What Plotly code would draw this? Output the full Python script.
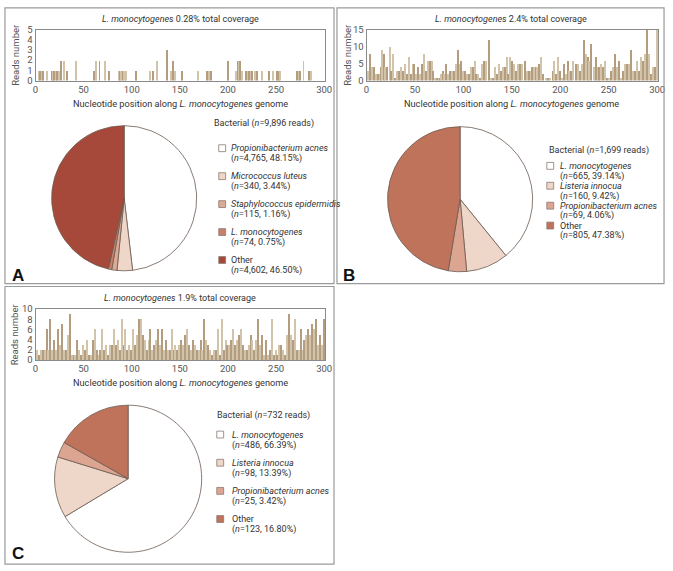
import plotly.graph_objects as go

W, H = 673, 571

# ---- coverage data (position along genome, reads number) ----
a_pos = [3, 4, 6, 7, 11, 17, 18, 19, 21, 22, 24, 26, 29, 32, 42, 60, 62, 66, 72, 76,
         86, 87, 88, 90, 91, 93, 94, 104, 118, 122, 126, 136, 140, 142, 144, 152, 168,
         178, 180, 182, 199, 200, 208, 210, 211, 212, 214, 218, 220, 221, 223, 224, 228,
         230, 235, 242, 246, 250, 252, 253, 254, 271, 273, 274, 278, 284, 286]
a_reads = [1, 1, 1, 1, 1, 1, 1, 1, 1, 1, 1, 2, 2, 1, 2, 1, 2, 2, 2, 1,
           1, 1, 1, 1, 1, 1, 1, 1, 1, 1, 2, 3, 1, 2, 1, 1, 1,
           1, 1, 1, 2, 2, 1, 2, 2, 2, 1, 1, 1, 1, 1, 1, 1,
           1, 1, 1, 1, 1, 1, 1, 1, 1, 1, 1, 2, 1, 1]

b_pos = [1, 3, 5, 7, 9, 11, 13, 14, 16, 18, 19, 21, 24, 25, 27, 29, 31, 33, 35, 37,
         39, 41, 43, 45, 47, 49, 51, 53, 55, 57, 59, 61, 63, 65, 67, 68, 70, 72, 74, 75,
         76, 78, 80, 82, 84, 86, 88, 90, 92, 94, 96, 97, 99, 101, 103, 105, 107, 109, 111, 113,
         115, 117, 119, 121, 123, 126, 128, 130, 132, 134, 136, 138, 140, 142, 145, 146, 148, 150, 152, 154,
         156, 158, 160, 163, 165, 167, 169, 170, 172, 174, 176, 178, 180, 182, 185, 187, 189, 192, 193, 195,
         197, 199, 201, 203, 205, 207, 209, 211, 213, 216, 218, 220, 222, 224, 226, 228, 229, 231, 234, 236,
         238, 240, 242, 244, 246, 248, 250, 252, 254, 256, 258, 260, 262, 264, 266, 268, 270, 273, 275, 277,
         279, 281, 283, 285, 287, 289, 291, 293, 295, 297, 299]
b_reads = [3, 8, 4, 4, 2, 2, 2, 4, 9, 8, 4, 4, 10, 3, 8, 1, 3, 3, 4, 3,
           5, 2, 7, 2, 5, 5, 2, 4, 2, 5, 8, 3, 6, 6, 6, 3, 1, 1, 1, 1,
           2, 3, 2, 5, 2, 3, 3, 3, 5, 9, 5, 6, 3, 3, 2, 2, 4, 4, 6, 2,
           2, 1, 5, 6, 6, 12, 1, 1, 4, 2, 5, 3, 4, 4, 7, 2, 7, 6, 5, 3,
           5, 5, 5, 6, 3, 3, 3, 4, 4, 4, 4, 5, 7, 2, 1, 1, 1, 3, 6, 2,
           7, 3, 1, 5, 2, 6, 3, 3, 6, 5, 5, 3, 5, 12, 8, 7, 6, 11, 4, 7,
           4, 4, 5, 4, 6, 1, 1, 3, 4, 8, 4, 6, 1, 3, 5, 5, 5, 9, 3, 3,
           6, 3, 7, 6, 8, 15, 8, 2, 4, 4, 15]

c_pos = list(range(1, 300, 2))
c_reads = [2, 1, 2, 2, 2, 6, 2, 8, 2, 4, 2, 6, 3, 7, 2, 2, 5, 9, 1, 1,
           1, 4, 2, 1, 3, 2, 4, 1, 1, 4, 6, 2, 1, 2, 6, 2, 3, 1, 3, 3,
           6, 3, 4, 2, 8, 3, 6, 2, 3, 2, 6, 3, 5, 8, 8, 5, 4, 2, 4, 6,
           2, 3, 4, 6, 3, 6, 2, 4, 2, 2, 6, 2, 3, 2, 3, 4, 3, 5, 6, 3,
           2, 4, 3, 2, 2, 4, 2, 8, 4, 3, 2, 1, 2, 2, 6, 1, 8, 2, 4, 3,
           3, 4, 6, 3, 4, 5, 6, 3, 2, 2, 3, 5, 4, 2, 4, 8, 3, 5, 1, 4,
           1, 2, 8, 1, 2, 1, 3, 3, 2, 1, 5, 9, 5, 4, 8, 2, 2, 6, 2, 4,
           5, 6, 5, 7, 6, 8, 3, 5, 3, 8]

# ---- pie data ----
a_names = ["Propionibacterium acnes", "Micrococcus luteus", "Staphylococcus epidermidis",
           "L. monocytogenes", "Other"]
a_counts = [4765, 340, 115, 74, 4602]
a_pcts = ["48.15", "3.44", "1.16", "0.75", "46.50"]

b_names = ["L. monocytogenes", "Listeria innocua", "Propionibacterium acnes", "Other"]
b_counts = [665, 160, 69, 805]
b_pcts = ["39.14", "9.42", "4.06", "47.38"]

c_names = ["L. monocytogenes", "Listeria innocua", "Propionibacterium acnes", "Other"]
c_counts = [486, 98, 25, 123]
c_pcts = ["66.39", "13.39", "3.42", "16.80"]

a_colors = ["#ffffff", "#eed6c9", "#dcaa95", "#c9806a", "#a7493a"]
bc_colors = ["#ffffff", "#eed6c9", "#dba592", "#bf735b"]

FONT = "Liberation Sans Narrow, Roboto, sans-serif"
GRAY = "#555555"
TXT = "#333333"


def px(x):
    return x / W


def py(y):
    return 1 - y / H


def bar_colors(n):
    return ["#d2c3ab" if i % 2 == 0 else "#b39d7e" for i in range(n)]


fig = go.Figure()

fig.add_trace(go.Bar(x=a_pos, y=a_reads, width=1.0, marker=dict(color=bar_colors(len(a_pos)), line_width=0),
                     xaxis="x", yaxis="y", showlegend=False))
fig.add_trace(go.Bar(x=b_pos, y=b_reads, width=1.1, marker=dict(color=bar_colors(len(b_pos)), line_width=0),
                     xaxis="x2", yaxis="y2", showlegend=False))
fig.add_trace(go.Bar(x=c_pos, y=c_reads, width=1.1, marker=dict(color=bar_colors(len(c_pos)), line_width=0),
                     xaxis="x3", yaxis="y3", showlegend=False))


def pie(names, counts, colors, cx, cy, r):
    return go.Pie(labels=names, values=counts, sort=False, direction="clockwise", rotation=0,
                  marker=dict(colors=colors, line=dict(color="#6b5a50", width=0.8)),
                  textinfo="none", hoverinfo="label+value+percent", showlegend=False,
                  domain=dict(x=[px(cx - r), px(cx + r)], y=[py(cy + r), py(cy - r)]))


fig.add_trace(pie(a_names, a_counts, a_colors, 123, 196, 74))
fig.add_trace(pie(b_names, b_counts, bc_colors, 464, 197, 74))
fig.add_trace(pie(c_names, c_counts, bc_colors, 127, 482, 75))

axis_common = dict(showline=True, linecolor="#8a8a8a", linewidth=1, mirror=True, showgrid=False,
                   zeroline=False, ticks="", tickfont=dict(size=9.5, color=GRAY, family=FONT))
xticks = [0, 50, 100, 150, 200, 250, 300]

layout = dict(
    width=W, height=H, margin=dict(l=0, r=0, t=0, b=0),
    paper_bgcolor="white", plot_bgcolor="white", bargap=0,
    font=dict(family=FONT, color=TXT),
    xaxis=dict(axis_common, domain=[px(33), px(327)], range=[0, 301], tickvals=xticks),
    yaxis=dict(axis_common, domain=[py(76), py(24)], range=[0, 5], tickvals=[0, 1, 2, 3, 4, 5]),
    xaxis2=dict(axis_common, domain=[px(369), px(665)], range=[0, 301], tickvals=xticks, anchor="y2"),
    yaxis2=dict(axis_common, domain=[py(76), py(24)], range=[0, 15], tickvals=[0, 5, 10, 15], anchor="x2"),
    xaxis3=dict(axis_common, domain=[px(33), px(327)], range=[0, 301], tickvals=xticks, anchor="y3"),
    yaxis3=dict(axis_common, domain=[py(361), py(309)], range=[0, 10], tickvals=[0, 2, 4, 6, 8, 10], anchor="x3"),
)

shapes = []
annotations = []

# panel frames
for x0, y0, x1, y1 in [(2, 2, 336, 283), (339, 2, 671, 283), (2, 286, 336, 569)]:
    shapes.append(dict(type="rect", xref="paper", yref="paper", x0=px(x0), x1=px(x1), y0=py(y1), y1=py(y0),
                       line=dict(color="#9a9a9a", width=1.2), fillcolor="rgba(0,0,0,0)"))


def text(x, y, s, size=9, xanchor="center", color=TXT, angle=0, family=FONT):
    annotations.append(dict(x=px(x), y=py(y), xref="paper", yref="paper", text=s, showarrow=False,
                            xanchor=xanchor, yanchor="middle", align="left",
                            font=dict(size=size, family=family, color=color), textangle=angle))


# bar chart titles and axis titles
for cx, ty, pct in [(180, 13, "0.28%"), (516, 13, "2.4%"), (180, 298, "1.9%")]:
    text(cx, ty, "<i>L. monocytogenes</i> " + pct + " total coverage", size=9)
    text(cx, ty + 86, "Nucleotide position along <i>L. monocytogenes</i> genome", size=9.2)
for x, y in [(12, 50), (349, 50), (12, 335)]:
    text(x, y, "Reads number", size=9.5, angle=-90, color=GRAY)

# panel letters
for x, y, s in [(7, 275, "A"), (343, 275, "B"), (7, 558, "C")]:
    text(x, y, "<b>" + s + "</b>", size=17, xanchor="left", color="#111111", family="Liberation Sans, Arial")


def legend(x_head, y_head, total, names, counts, pcts, colors, x_sq, x_txt, y_first, step, lh):
    text(x_head, y_head, "Bacterial (<i>n</i>=" + total + " reads)", size=9, xanchor="left")
    for i, (nm, n, p, c) in enumerate(zip(names, counts, pcts, colors)):
        yy = y_first + i * step
        shapes.append(dict(type="rect", xref="paper", yref="paper", x0=px(x_sq), x1=px(x_sq + 7),
                           y0=py(yy + 3.5), y1=py(yy - 3.5), line=dict(color="#8a7a72", width=0.8), fillcolor=c))
        label = nm if nm == "Other" else "<i>" + nm + "</i>"
        text(x_txt, yy, label, size=9, xanchor="left")
        text(x_txt, yy + lh, "(<i>n</i>=" + f"{n:,}" + ", " + p + "%)", size=9, xanchor="left")


legend(212, 120, "9,896", a_names, a_counts, a_pcts, a_colors, 219, 229, 145, 28.5, 11)
legend(552, 147, "1,699", b_names, b_counts, b_pcts, bc_colors, 552, 563, 163, 20.3, 10.5)
legend(215, 418, "732", c_names, c_counts, c_pcts, bc_colors, 217, 230, 437, 28.7, 11)

layout["shapes"] = shapes
layout["annotations"] = annotations
fig.update_layout(layout)

# page body has a default 8px margin; remove it so the figure fills the window
fig.write_html("out.html", config={"displayModeBar": False},
               post_script="document.body.style.margin='0';document.body.style.overflow='hidden';")
